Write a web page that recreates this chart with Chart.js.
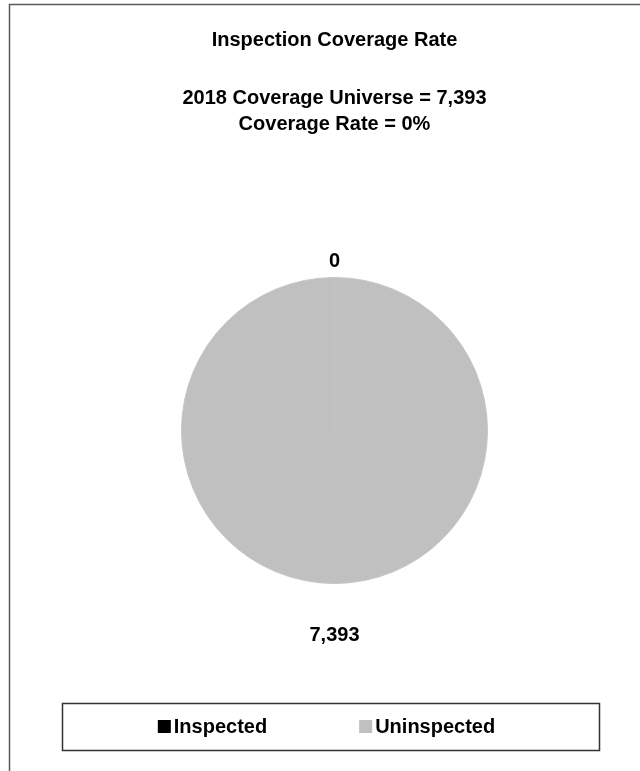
<!DOCTYPE html>
<html>
<head>
<meta charset="utf-8">
<title>Inspection Coverage Rate</title>
<script src="https://cdn.jsdelivr.net/npm/chart.js@4.4.1/dist/chart.umd.min.js"></script>
<style>
  html, body { margin: 0; padding: 0; background: #fff; overflow: hidden; }
  #wrap { position: relative; width: 640px; height: 771px; }
</style>
</head>
<body>
<div id="wrap"><canvas id="pie"></canvas></div>
<script>
// data
const categories = ['Inspected', 'Uninspected'];
const counts = [0, 7393];
const sliceColors = ['#000000', '#c0c0c0'];
const titleLines = ['Inspection Coverage Rate'];
const subtitleLines = ['2018 Coverage Universe = 7,393', 'Coverage Rate = 0%'];

const FONT = '"Liberation Sans", Arial, sans-serif';
const boldFont = 'bold 20px ' + FONT;

// outer frame (cropped on right/bottom) + legend box
const framePlugin = {
    id: 'frame',
    beforeDraw(chart) {
        const ctx = chart.ctx;
        ctx.save();
        ctx.fillStyle = '#fff';
        ctx.fillRect(0, 0, chart.width, chart.height);
        ctx.strokeStyle = '#5a5a5a';
        ctx.lineWidth = 1.5;
        ctx.beginPath();
        ctx.moveTo(9.5, chart.height + 5);
        ctx.lineTo(9.5, 4.5);
        ctx.lineTo(chart.width + 5, 4.5);
        ctx.stroke();
        ctx.restore();
    }
};

// data labels, placed outside each slice
const labelOffsets = [16, 52];
const labelPlugin = {
    id: 'sliceLabels',
    afterDatasetsDraw(chart) {
        const ctx = chart.ctx;
        const meta = chart.getDatasetMeta(0);
        ctx.save();
        ctx.font = boldFont;
        ctx.fillStyle = '#000';
        ctx.textAlign = 'center';
        ctx.textBaseline = 'middle';
        meta.data.forEach((arc, i) => {
            const p = arc.getProps(['x', 'y', 'startAngle', 'endAngle', 'outerRadius'], true);
            const mid = (p.startAngle + p.endAngle) / 2;
            const r = p.outerRadius + labelOffsets[i];
            const v = chart.data.datasets[0].data[i];
            ctx.fillText(v.toLocaleString('en-US'), p.x + Math.cos(mid) * r, p.y + Math.sin(mid) * r);
        });
        ctx.restore();
    }
};

// legend drawn in a box at the bottom
const legendPlugin = {
    id: 'boxLegend',
    afterDraw(chart) {
        const ctx = chart.ctx;
        const box = { left: 62, top: 703, right: 599, bottom: 750 };
        ctx.save();
        ctx.strokeStyle = '#333';
        ctx.lineWidth = 1.5;
        ctx.strokeRect(box.left + 0.5, box.top + 0.5, box.right - box.left, box.bottom - box.top);

        ctx.font = boldFont;
        ctx.textBaseline = 'alphabetic';
        const sq = 13, textGap = 3, itemGap = 92;
        const labels = chart.data.labels;
        const colors = chart.data.datasets[0].backgroundColor;
        const widths = labels.map(l => sq + textGap + ctx.measureText(l).width);
        const total = widths.reduce((a, b) => a + b, 0) + itemGap * (labels.length - 1);
        let x = (box.left + box.right) / 2 - 4 - total / 2;
        const baseline = 733;
        labels.forEach((l, i) => {
            ctx.fillStyle = colors[i];
            ctx.fillRect(x, baseline - sq, sq, sq);
            ctx.fillStyle = '#000';
            ctx.fillText(l, x + sq + textGap, baseline);
            x += widths[i] + itemGap;
        });
        ctx.restore();
    }
};

new Chart(document.getElementById('pie'), {
    type: 'pie',
    data: {
        labels: categories,
        datasets: [{
            data: counts,
            backgroundColor: sliceColors,
            borderColor: '#c6c6c6',
            borderWidth: 1,
            hoverOffset: 0
        }]
    },
    options: {
        responsive: true,
        maintainAspectRatio: false,
        animation: false,
        layout: { padding: { top: 0, left: 29, right: 0, bottom: 187 } },
        plugins: {
            legend: { display: false },
            tooltip: { enabled: false },
            title: {
                display: true,
                text: titleLines,
                color: '#000',
                font: { family: FONT, size: 20, weight: 'bold', lineHeight: 1.2 },
                padding: { top: 28, bottom: 33 }
            },
            subtitle: {
                display: true,
                text: subtitleLines,
                color: '#000',
                font: { family: FONT, size: 20, weight: 'bold', lineHeight: 1.3 },
                padding: { top: 0, bottom: 140 }
            }
        }
    },
    plugins: [framePlugin, labelPlugin, legendPlugin]
});
</script>
</body>
</html>
